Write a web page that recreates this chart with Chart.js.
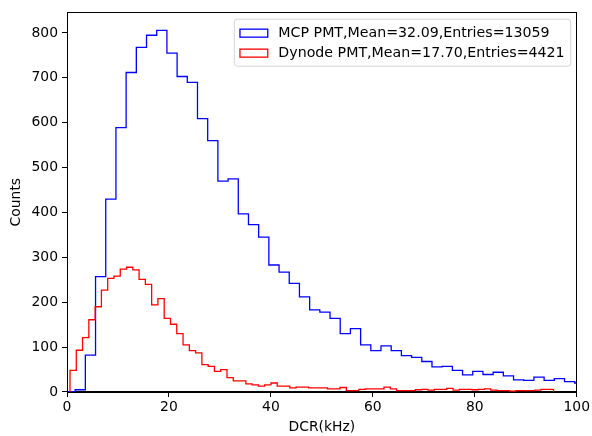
<!DOCTYPE html>
<html>
<head>
<meta charset="utf-8">
<script src="https://cdn.jsdelivr.net/npm/chart.js@4.4.1/dist/chart.umd.min.js"></script>
<style>
  html, body { margin: 0; padding: 0; background: #fff; }
</style>
</head>
<body>
<canvas id="main" width="592" height="436"></canvas>
<script>
// histogram contents
const mcpLabel = 'MCP PMT,Mean=32.09,Entries=13059';
const mcpStart = -0.4;   // first bin edge
const mcpWidth = 2;      // bin width
const mcpCounts = [
  1, 5, 82, 257, 430, 589, 712, 768, 795, 806,
  755, 703, 690, 609, 560, 470, 475, 397, 373, 345,
  283, 267, 242, 212, 183, 178, 164, 130, 141, 105,
  92, 103, 92, 81, 77, 68, 56, 57, 48, 38,
  46, 39, 44, 36, 27, 26, 33, 26, 30, 23,
  20
];

const dynLabel = 'Dynode PMT,Mean=17.70,Entries=4421';
const dynStart = 0.59;
const dynWidth = 1.232;
const dynCounts = [
  48, 93, 121, 161, 190, 227, 253, 258, 274, 278,
  272, 251, 240, 194, 208, 164, 151, 130, 105, 92,
  87, 61, 57, 46, 50, 32, 25, 25, 18, 16,
  13, 16, 20, 13, 13, 9, 11, 11, 9, 9,
  9, 7, 7, 10, 3, 3, 6, 7, 7, 7,
  11, 7, 3, 3, 3, 5, 6, 4, 6, 6,
  8, 4, 6, 6, 5, 6, 7, 4, 3, 3,
  2, 3, 3, 3, 4, 6, 6
];

const xTicks = [0, 20, 40, 60, 80, 100];
const yTicks = [0, 100, 200, 300, 400, 500, 600, 700, 800];

// turn bin counts into an outline like matplotlib's histtype='step'
function steps(start, width, counts) {
  const pts = [{ x: start, y: 0 }];
  counts.forEach((c, i) => {
    pts.push({ x: start + i * width, y: c });
    pts.push({ x: start + (i + 1) * width, y: c });
  });
  pts.push({ x: start + counts.length * width, y: 0 });
  return pts;
}

const FONT = '"DejaVu Sans", sans-serif';

const whiteBg = {
  id: 'whiteBg',
  beforeDraw(chart) {
    const ctx = chart.ctx;
    ctx.save();
    ctx.fillStyle = '#fff';
    ctx.fillRect(0, 0, chart.width, chart.height);
    ctx.restore();
  }
};

// full box around the axes + legend inside, upper right
const frameAndLegend = {
  id: 'frameAndLegend',
  afterDraw(chart) {
    const ctx = chart.ctx;
    const a = chart.chartArea;
    ctx.save();
    ctx.strokeStyle = '#000';
    ctx.lineWidth = 1;
    ctx.strokeRect(Math.round(a.left) + 0.5, Math.round(a.top) + 0.5,
      Math.round(a.right - a.left) - 1, Math.round(a.bottom - a.top));

    ctx.font = '14.2px ' + FONT;
    const items = chart.data.datasets.map(d => ({ text: d.label, color: d.borderColor }));
    const textW = Math.max(...items.map(it => ctx.measureText(it.text).width));
    const pad = 5.6, handleW = 27.8, gap = 11.1, rowH = 20;
    const boxW = pad + handleW + gap + textW + pad;
    const boxH = 47;
    const right = a.right - 6.5;
    const left = right - boxW;
    const top = a.top + 6.3;

    ctx.beginPath();
    ctx.roundRect(left + 0.5, top + 0.5, boxW, boxH, 3);
    ctx.fillStyle = 'rgba(255,255,255,0.8)';
    ctx.fill();
    ctx.strokeStyle = '#d6d6d6';
    ctx.lineWidth = 1;
    ctx.stroke();

    items.forEach((it, i) => {
      const cy = top + 14.5 + i * rowH;
      ctx.strokeStyle = it.color;
      ctx.lineWidth = 1.3;
      ctx.strokeRect(left + pad + 0.5, cy - 4, handleW, 8);
      ctx.fillStyle = '#000';
      ctx.textBaseline = 'middle';
      ctx.textAlign = 'left';
      ctx.fillText(it.text, left + pad + handleW + gap, cy + 0.5);
    });
    ctx.restore();
  }
};

new Chart(document.getElementById('main'), {
  type: 'line',
  data: {
    datasets: [
      {
        label: mcpLabel,
        data: steps(mcpStart, mcpWidth, mcpCounts),
        borderColor: '#0000ff',
        borderWidth: 1.3,
        pointRadius: 0,
        tension: 0,
        fill: false,
        order: 2
      },
      {
        label: dynLabel,
        data: steps(dynStart, dynWidth, dynCounts),
        borderColor: '#ff0000',
        borderWidth: 1.3,
        pointRadius: 0,
        tension: 0,
        fill: false,
        order: 1
      }
    ]
  },
  options: {
    responsive: false,
    animation: false,
    devicePixelRatio: 1,
    layout: { padding: { left: 0, right: 13, top: 11, bottom: 0 } },
    plugins: {
      legend: { display: false },
      tooltip: { enabled: false }
    },
    scales: {
      x: {
        type: 'linear',
        min: 0,
        max: 100,
        afterBuildTicks: s => { s.ticks = xTicks.map(v => ({ value: v })); },
        afterFit: s => { s.height = 44; },
        grid: { drawOnChartArea: false, tickLength: 5, color: '#000', tickColor: '#000' },
        border: { color: '#000', width: 1 },
        ticks: { color: '#000', font: { family: FONT, size: 13.9 }, padding: 2, maxRotation: 0 },
        title: { display: true, text: 'DCR(kHz)', color: '#000', font: { family: FONT, size: 13.9 }, padding: { top: 0, bottom: 0 } }
      },
      y: {
        type: 'linear',
        min: 0,
        max: 846,
        afterBuildTicks: s => { s.ticks = yTicks.map(v => ({ value: v })); },
        afterFit: s => { s.width = 67; },
        grid: { drawOnChartArea: false, tickLength: 5, color: '#000', tickColor: '#000' },
        border: { color: '#000', width: 1 },
        ticks: { color: '#000', font: { family: FONT, size: 13.9 }, padding: 4 },
        title: { display: true, text: 'Counts', color: '#000', font: { family: FONT, size: 13.9 }, padding: { top: 8.4, bottom: 0 } }
      }
    }
  },
  plugins: [whiteBg, frameAndLegend]
});
</script>
</body>
</html>
